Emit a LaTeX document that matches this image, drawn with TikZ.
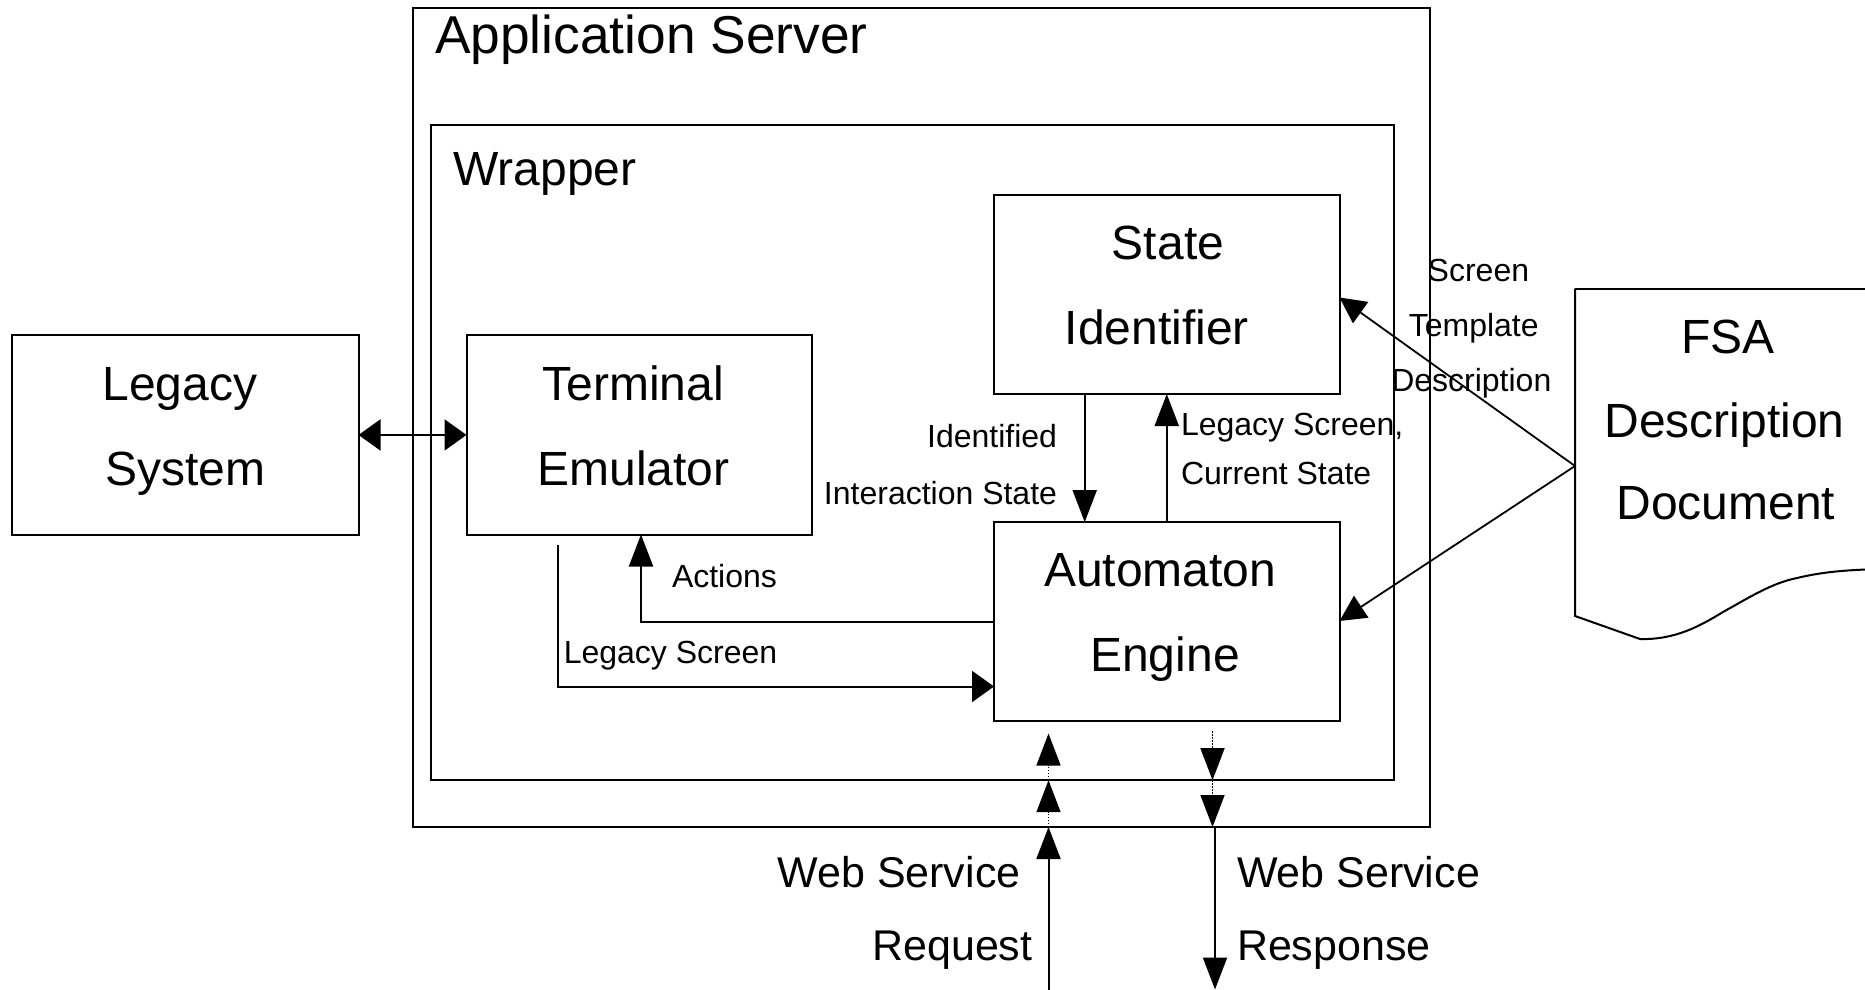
\documentclass[tikz,border=0pt]{standalone}
\usepackage{fontspec}
\setmainfont{Liberation Sans}
\usetikzlibrary{arrows.meta}
\begin{document}
\begin{tikzpicture}[x=1pt,y=-1pt,
  line width=2pt,
  boxnode/.style={draw=black, line width=2pt, rectangle, inner sep=0pt, outer sep=0pt},
  txt/.style={inner sep=0pt, outer sep=0pt},
  bigfont/.style={font=\fontsize{48}{52}\selectfont},
  appfont/.style={font=\fontsize{53.3}{57}\selectfont},
  webfont/.style={font=\fontsize{43}{47}\selectfont},
  smallfont/.style={font=\fontsize{32}{35}\selectfont},
  vtip/.style={-{Triangle[length=32pt,width=24pt]}},
  htip/.style={-{Triangle[length=22pt,width=31pt]}},
  dtip/.style={-{Triangle[length=26pt,width=26pt]}},
  dhtip/.style={{Triangle[length=22pt,width=31pt]}-{Triangle[length=22pt,width=31pt]}},
  dotline/.style={line width=1.5pt, dash pattern=on 1.5pt off 1.5pt},
]
\useasboundingbox (0,0) rectangle (1865,990);
\clip (0,0) rectangle (1865,990);

% containers
\node[boxnode, minimum width=1017.3pt, minimum height=818.7pt] (appserver) at (921.35,417.65) {};
\node[boxnode, minimum width=962.9pt, minimum height=655.2pt] (wrapper) at (912.05,452.6) {};
\node[txt, appfont, anchor=base west] (apptitle) at (435,53.3) {Application Server};
\node[txt, bigfont, anchor=base west] (wraptitle) at (453.3,185) {Wrapper};

% boxes
\node[boxnode, minimum width=346.6pt, minimum height=199.1pt] (legacy) at (185.2,434.95) {};
\node[boxnode, minimum width=345.5pt, minimum height=199.1pt] (terminal) at (639.25,434.95) {};
\node[boxnode, minimum width=345.5pt, minimum height=198.9pt] (stateid) at (1166.75,294.55) {};
\node[boxnode, minimum width=345.5pt, minimum height=198.9pt] (automaton) at (1166.75,621.55) {};

% box texts
\node[txt, bigfont, anchor=base] (legacyA) at (180,400) {Legacy};
\node[txt, bigfont, anchor=base] (legacyB) at (185.5,485) {System};
\node[txt, bigfont, anchor=base] (termA) at (633,400) {Terminal};
\node[txt, bigfont, anchor=base] (termB) at (633.5,485) {Emulator};
\node[txt, bigfont, anchor=base] (stateA) at (1168,259.7) {State};
\node[txt, bigfont, anchor=base] (stateB) at (1156.7,344.7) {Identifier};
\node[txt, bigfont, anchor=base] (autoA) at (1160.3,586.7) {Automaton};
\node[txt, bigfont, anchor=base] (autoB) at (1165,671.7) {Engine};

% FSA document
\draw[line width=2pt] (1575,288.5) -- (1880,288.5);
\draw[line width=2pt] (1575,288.5) -- (1575,616) -- (1640,639)
  .. controls (1675,640) and (1700,626) .. (1723,612)
  .. controls (1750,597) and (1772,583) .. (1797,578)
  .. controls (1822,572) and (1845,570) .. (1880,569);
\coordinate (fsaL) at (1575,466);
\node[txt, bigfont, anchor=base] (fsaA) at (1728,353) {FSA};
\node[txt, bigfont, anchor=base] (fsaB) at (1724.6,437.5) {Description};
\node[txt, bigfont, anchor=base] (fsaC) at (1725.8,519.5) {Document};

% helper coordinates
\coordinate (actY) at (0,621.5);
\coordinate (actX) at (641,0);
\coordinate (lsStart) at (557.8,545);
\coordinate (lsY) at (0,686.5);
\coordinate (idX) at (1084.7,0);
\coordinate (sY) at (0,297.5);
\coordinate (aY) at (0,621);
\coordinate (reqX) at (1048.5,0);
\coordinate (reqBot) at (1048.5,995);
\coordinate (resX) at (1212.5,0);
\coordinate (resX2) at (1215,0);
\coordinate (resBot) at (1215,989.5);

% connectors
\draw[dhtip] (legacy.east) -- (terminal.west);
\draw[vtip] (automaton.west |- actY) -| (terminal.south -| actX);
\draw[htip] (lsStart) |- (automaton.west |- lsY);
\draw[vtip] (stateid.south -| idX) -- (automaton.north -| idX);
\draw[vtip] (automaton.north) -- (stateid.south);
\draw[dtip, line width=1.8pt] (fsaL) -- (stateid.east |- sY);
\draw[dtip, line width=1.8pt] (fsaL) -- (automaton.east |- aY);

% web service request
\draw[vtip] (reqBot) -- (appserver.south -| reqX);
\draw[vtip, dotline] (appserver.south -| reqX) -- (wrapper.south -| reqX);
\draw[vtip, dotline, shorten >=12.5pt] (wrapper.south -| reqX) -- (automaton.south -| reqX);
% web service response
\draw[vtip, dotline, shorten <=10pt] (automaton.south -| resX) -- (wrapper.south -| resX);
\draw[vtip, dotline] (wrapper.south -| resX) -- (appserver.south -| resX);
\draw[vtip] (appserver.south -| resX2) -- (resBot);

% labels
\node[txt, smallfont, anchor=base east] (lblIdA) at (1057,447.7) {Identified};
\node[txt, smallfont, anchor=base east] (lblIdB) at (1057,504.8) {Interaction State};
\node[txt, smallfont, anchor=base west] (lblLcA) at (1181,435.8) {Legacy Screen,};
\node[txt, smallfont, anchor=base west] (lblLcB) at (1181,484.6) {Current State};
\node[txt, smallfont, anchor=base west] (lblAct) at (672,587) {Actions};
\node[txt, smallfont, anchor=base west] (lblLs) at (563.8,663) {Legacy Screen};
\node[txt, smallfont, anchor=base] (lblScA) at (1478.4,281) {Screen};
\node[txt, smallfont, anchor=base] (lblScB) at (1473.7,336) {Template};
\node[txt, smallfont, anchor=base] (lblScC) at (1471.3,391.8) {Description};
\node[txt, webfont, anchor=base east] (lblReqA) at (1020.5,887) {Web Service};
\node[txt, webfont, anchor=base east] (lblReqB) at (1032.4,960.6) {Request};
\node[txt, webfont, anchor=base west] (lblResA) at (1237,887) {Web Service};
\node[txt, webfont, anchor=base west] (lblResB) at (1237,960.6) {Response};
\end{tikzpicture}
\end{document}
